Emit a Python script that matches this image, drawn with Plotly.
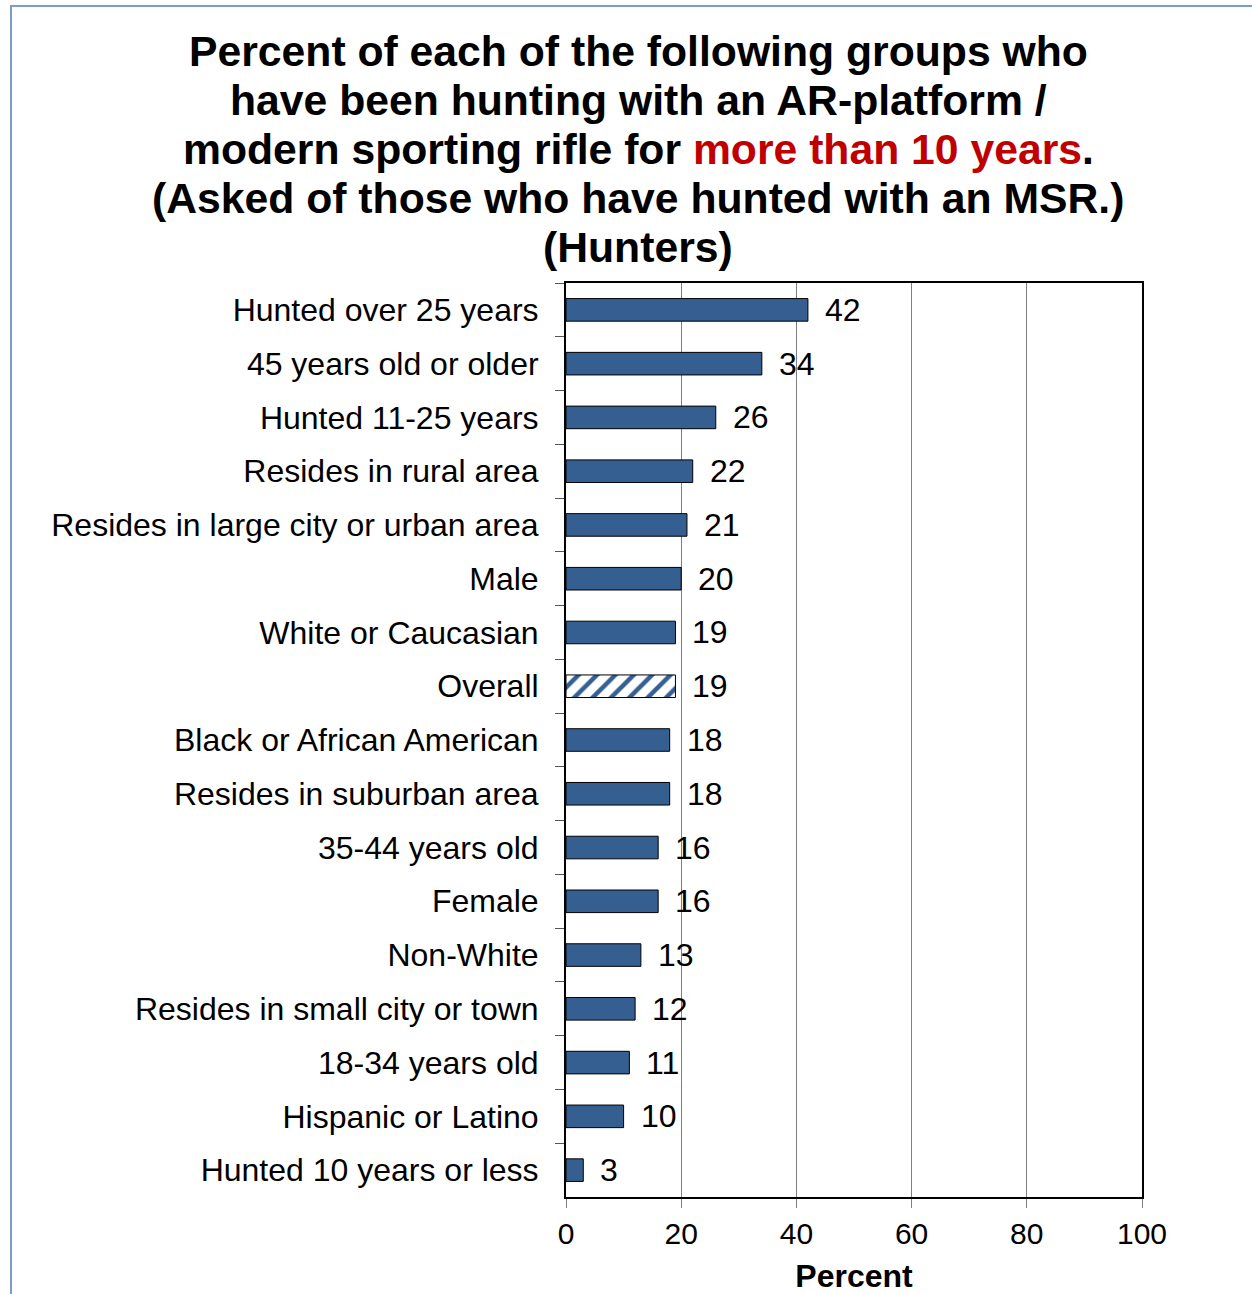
import plotly.graph_objects as go

# Survey groups, listed top to bottom as drawn
groups = [
    "Hunted over 25 years",
    "45 years old or older",
    "Hunted 11-25 years",
    "Resides in rural area",
    "Resides in large city or urban area",
    "Male",
    "White or Caucasian",
    "Overall",
    "Black or African American",
    "Resides in suburban area",
    "35-44 years old",
    "Female",
    "Non-White",
    "Resides in small city or town",
    "18-34 years old",
    "Hispanic or Latino",
    "Hunted 10 years or less",
]
percents = [42, 34, 26, 22, 21, 20, 19, 19, 18, 18, 16, 16, 13, 12, 11, 10, 3]
x_ticks = [0, 20, 40, 60, 80, 100]

title_lines = [
    "Percent of each of the following groups who",
    "have been hunting with an AR-platform /",
    "modern sporting rifle for <span style='color:#C00000'>more than 10 years</span>.",
    "(Asked of those who have hunted with an MSR.)",
    "(Hunters)",
]

BAR_BLUE = "#365F91"
FONT = "Liberation Sans, Arial, sans-serif"

W, H = 1252, 1294
M_L, M_R, M_T, M_B = 566, 110, 283, 97
PLOT_W = W - M_L - M_R
PLOT_H = H - M_T - M_B


def px_to_paper_x(px):
    return (px - M_L) / PLOT_W


def px_to_paper_y(py):
    return (H - M_B - py) / PLOT_H


# The "Overall" bar is hatched; all others are solid
shapes = ["/" if g == "Overall" else "" for g in groups]

fig = go.Figure()
fig.add_trace(go.Bar(
    x=percents,
    y=groups,
    orientation="h",
    width=0.42,
    marker=dict(
        color=BAR_BLUE,
        line=dict(color="black", width=1),
        pattern=dict(shape=shapes, fgcolor=BAR_BLUE, bgcolor="white",
                     size=13, solidity=0.35, fillmode="replace"),
    ),
    hoverinfo="skip",
))

# Value labels placed just right of each bar end
for g, v in zip(groups, percents):
    fig.add_annotation(x=v, y=g, text=str(v), xanchor="left", yanchor="middle",
                       xshift=15, showarrow=False,
                       font=dict(family=FONT, size=32, color="black"))

# Title, one line per annotation for tight line spacing
for i, line in enumerate(title_lines):
    fig.add_annotation(xref="paper", yref="paper",
                       x=px_to_paper_x(638), y=px_to_paper_y(51 + 49 * i),
                       xanchor="center", yanchor="middle", showarrow=False,
                       text="<b>" + line + "</b>",
                       font=dict(family=FONT, size=42.7, color="black"))

# Light blue frame around the whole chart
fig.add_shape(type="rect", xref="paper", yref="paper",
              x0=px_to_paper_x(11), x1=px_to_paper_x(W + 20),
              y0=px_to_paper_y(H + 20), y1=px_to_paper_y(6),
              line=dict(color="#7F9CC8", width=2), fillcolor="rgba(0,0,0,0)",
              layer="below")

fig.update_layout(
    width=W, height=H,
    margin=dict(l=M_L, r=M_R, t=M_T, b=M_B, autoexpand=False),
    paper_bgcolor="white", plot_bgcolor="white",
    showlegend=False,
    font=dict(family=FONT, color="black"),
    bargap=0.58,
)

fig.update_xaxes(
    range=[0, 100], tickvals=x_ticks, ticktext=[str(t) for t in x_ticks],
    showgrid=True, gridcolor="#7F7F7F", gridwidth=1,
    showline=True, linecolor="black", linewidth=2, mirror=True,
    ticks="outside", ticklen=9, tickcolor="#7F7F7F", tickwidth=1,
    tickfont=dict(family=FONT, size=30, color="black"),
    title=dict(text="<b>Percent</b>", font=dict(family=FONT, size=32, color="black"),
               standoff=19),
    zeroline=False, fixedrange=True, automargin=False,
)

fig.update_yaxes(
    categoryorder="array", categoryarray=groups, autorange="reversed",
    tickson="boundaries", ticks="outside", ticklen=9, tickcolor="#555555", tickwidth=1,
    showgrid=False,
    showline=True, linecolor="black", linewidth=2, mirror=True,
    tickfont=dict(family=FONT, size=32, color="black"),
    ticklabelstandoff=19,
    fixedrange=True, automargin=False,
)

fig.write_html("out.html")
